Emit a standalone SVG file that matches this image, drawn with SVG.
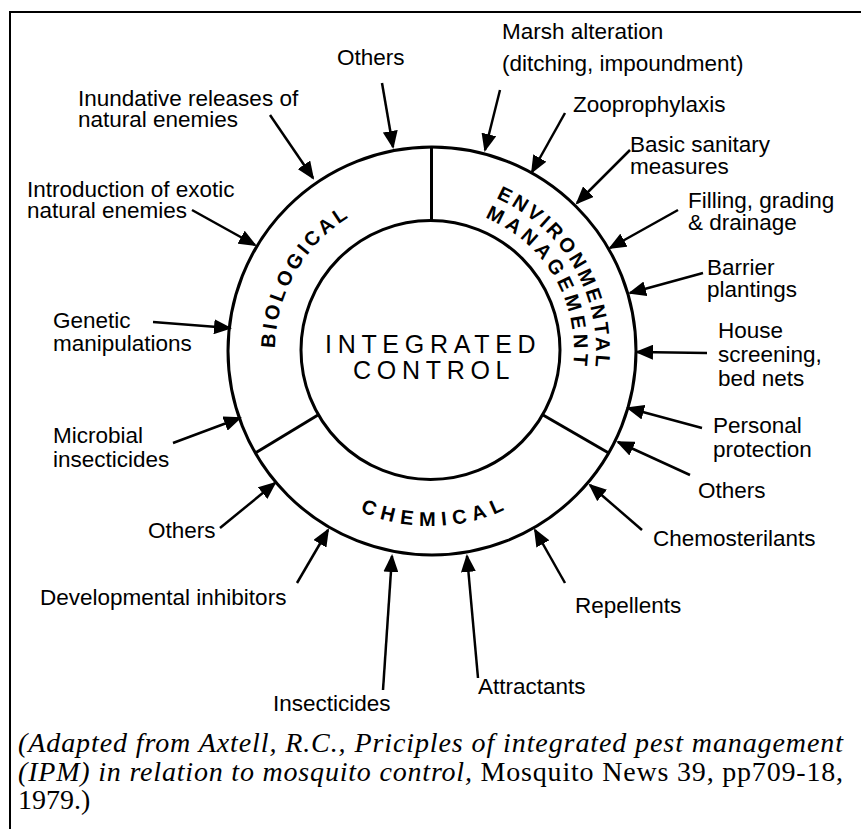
<svg xmlns="http://www.w3.org/2000/svg" width="861" height="829" viewBox="0 0 861 829">
  <defs>
    <!-- solid triangular arrowhead shared by every connector -->
    <marker id="head" viewBox="0 0 18 15" markerWidth="18" markerHeight="15" refX="16" refY="7.5" orient="auto" markerUnits="userSpaceOnUse">
      <path d="M0,0 L18,7.5 L0,15 z" fill="#000"/>
    </marker>
    <!-- baselines for the lettering inside the ring -->
    <path id="arcBio" d="M295.9,428 A156,156 0 0 1 431,194"/>
    <path id="arcEnv" d="M431,185 A165,165 0 0 1 573.9,432.5"/>
    <path id="arcMan" d="M431,207 A143,143 0 0 1 554.8,421.5"/>
    <path id="arcChem" d="M280.9,442 A176,176 0 0 0 585.7,434"/>
  </defs>
  <style>
    .lbl{font-family:"Liberation Sans",Arial,Helvetica,sans-serif;font-size:22.5px;fill:#000}
    .sect{font-family:"Liberation Sans",Arial,Helvetica,sans-serif;font-size:20px;font-weight:bold;fill:#000}
    .core{font-family:"Liberation Sans",Arial,Helvetica,sans-serif;font-size:25px;letter-spacing:5.7px;fill:#000}
    .ring{fill:none;stroke:#000;stroke-width:3}
    .arrow{fill:none;stroke:#000;stroke-width:2.5;marker-end:url(#head)}
    .cap{font-family:"Liberation Serif","Times New Roman",serif;font-size:28px;fill:#000}
  </style>

  <rect width="861" height="829" fill="#fff"/>
  <!-- page frame -->
  <path d="M10,829 V12 H861" fill="none" stroke="#000" stroke-width="2"/>

  <!-- the ring of three control sectors -->
  <g id="ring">
    <circle class="ring" cx="432" cy="351" r="204"/>
    <line class="ring" x1="431.5" y1="147" x2="431.5" y2="221"/>
    <line class="ring" x1="318.4" y1="414.8" x2="255.3" y2="453"/>
    <line class="ring" x1="542.6" y1="414.8" x2="608.7" y2="453"/>
  </g>
  <g id="biological">
    <text class="sect" letter-spacing="3.4"><textPath href="#arcBio" startOffset="50%" text-anchor="middle">BIOLOGICAL</textPath></text>
  </g>
  <g id="environmental-management">
    <text class="sect" letter-spacing="3"><textPath href="#arcEnv" startOffset="50%" text-anchor="middle">ENVIRONMENTAL</textPath></text>
    <text class="sect" letter-spacing="4.3"><textPath href="#arcMan" startOffset="50%" text-anchor="middle">MANAGEMENT</textPath></text>
  </g>
  <g id="chemical">
    <text class="sect" letter-spacing="6.2"><textPath href="#arcChem" startOffset="50%" text-anchor="middle">CHEMICAL</textPath></text>
  </g>
  <g id="integrated-control">
    <circle class="ring" cx="430.5" cy="350" r="129.5" fill="#fff"/>
    <text class="core" x="325" y="353">INTEGRATED</text>
    <text class="core" x="353" y="379">CONTROL</text>
  </g>

  <!-- contributing measures -->
  <g id="others-bio"><text class="lbl" x="337" y="65">Others</text></g>
  <g id="inundative"><text class="lbl" x="78" y="106">Inundative releases of</text><text class="lbl" x="78" y="127">natural enemies</text></g>
  <g id="introduction"><text class="lbl" x="27" y="197">Introduction of exotic</text><text class="lbl" x="27" y="218">natural enemies</text></g>
  <g id="genetic"><text class="lbl" x="53" y="328">Genetic</text><text class="lbl" x="53" y="351">manipulations</text></g>
  <g id="microbial"><text class="lbl" x="53" y="443">Microbial</text><text class="lbl" x="53" y="467">insecticides</text></g>
  <g id="others-chem"><text class="lbl" x="148" y="538">Others</text></g>
  <g id="developmental"><text class="lbl" x="40" y="605">Developmental inhibitors</text></g>
  <g id="insecticides"><text class="lbl" x="273" y="711">Insecticides</text></g>
  <g id="attractants"><text class="lbl" x="478" y="694">Attractants</text></g>
  <g id="repellents"><text class="lbl" x="575" y="613">Repellents</text></g>
  <g id="chemosterilants"><text class="lbl" x="653" y="546">Chemosterilants</text></g>
  <g id="others-env"><text class="lbl" x="698" y="498">Others</text></g>
  <g id="personal"><text class="lbl" x="713" y="433">Personal</text><text class="lbl" x="713" y="457">protection</text></g>
  <g id="house"><text class="lbl" x="718" y="338">House</text><text class="lbl" x="718" y="362">screening,</text><text class="lbl" x="718" y="386">bed nets</text></g>
  <g id="barrier"><text class="lbl" x="707" y="275">Barrier</text><text class="lbl" x="707" y="297">plantings</text></g>
  <g id="filling"><text class="lbl" x="688" y="208">Filling, grading</text><text class="lbl" x="688" y="230">&amp; drainage</text></g>
  <g id="sanitary"><text class="lbl" x="630" y="152">Basic sanitary</text><text class="lbl" x="630" y="174">measures</text></g>
  <g id="zooprophylaxis"><text class="lbl" x="573" y="112">Zooprophylaxis</text></g>
  <g id="marsh"><text class="lbl" x="502" y="39">Marsh alteration</text><text class="lbl" x="502" y="71">(ditching, impoundment)</text></g>

  <!-- connectors: each measure points at the ring -->
  <g id="connectors">
    <line class="arrow" x1="382" y1="83" x2="393" y2="147"/>
    <line class="arrow" x1="270" y1="115" x2="313" y2="178"/>
    <line class="arrow" x1="192" y1="210" x2="255" y2="245"/>
    <line class="arrow" x1="153" y1="322" x2="230" y2="328"/>
    <line class="arrow" x1="173" y1="443" x2="240" y2="418"/>
    <line class="arrow" x1="220" y1="528" x2="275" y2="483"/>
    <line class="arrow" x1="297" y1="583" x2="328" y2="530"/>
    <line class="arrow" x1="383" y1="690" x2="392" y2="556"/>
    <line class="arrow" x1="478" y1="678" x2="467" y2="556"/>
    <line class="arrow" x1="565" y1="583" x2="535" y2="530"/>
    <line class="arrow" x1="642" y1="530" x2="590" y2="485"/>
    <line class="arrow" x1="690" y1="475" x2="618" y2="442"/>
    <line class="arrow" x1="702" y1="428" x2="628" y2="408"/>
    <line class="arrow" x1="707" y1="353" x2="637" y2="352"/>
    <line class="arrow" x1="703" y1="273" x2="630" y2="293"/>
    <line class="arrow" x1="678" y1="210" x2="610" y2="248"/>
    <line class="arrow" x1="630" y1="150" x2="577" y2="203"/>
    <line class="arrow" x1="565" y1="113" x2="532" y2="172"/>
    <line class="arrow" x1="500" y1="90" x2="485" y2="150"/>
  </g>

  <!-- source note -->
  <g id="source-note">
    <text class="cap" x="18" y="752" font-style="italic" textLength="825" lengthAdjust="spacing">(Adapted from Axtell, R.C., Priciples of integrated pest management</text>
    <text class="cap" x="18" y="781" textLength="825" lengthAdjust="spacing"><tspan font-style="italic">(IPM) in relation to mosquito control,</tspan> Mosquito News 39, pp709-18,</text>
    <text class="cap" x="18" y="809">1979.)</text>
  </g>
</svg>
